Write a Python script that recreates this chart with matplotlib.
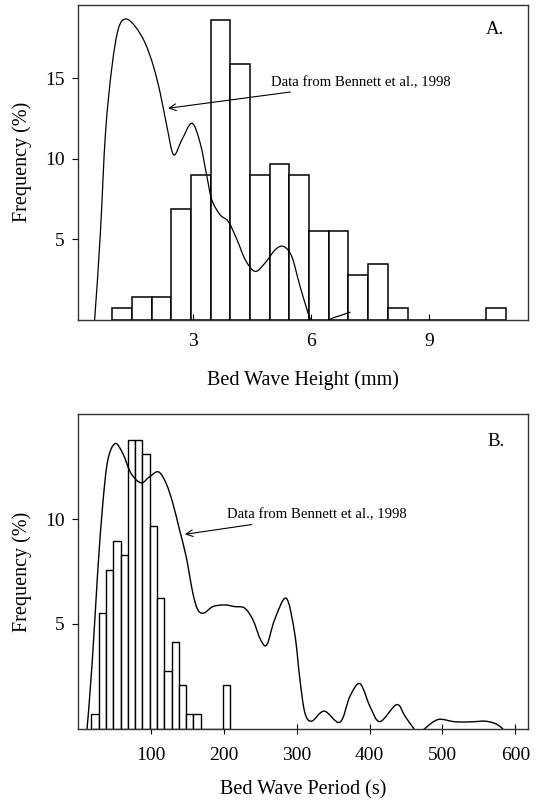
import numpy as np
import matplotlib
matplotlib.use("Agg")
import matplotlib.pyplot as plt
from matplotlib.path import Path
from matplotlib.patches import PathPatch

plt.rcParams['font.family'] = ['Liberation Serif', 'DejaVu Serif']

# ---------------- Panel A: bed wave height ----------------
height_bin_left = [0.95, 1.45, 1.95, 2.45, 2.95, 3.45, 3.95, 4.45, 4.95, 5.45,
                   5.95, 6.45, 6.95, 7.45, 7.95, 8.45, 8.95, 9.45, 9.95, 10.45]
height_bin_width = 0.5
height_freq = [0.69, 1.38, 1.38, 6.90, 8.97, 18.62, 15.86, 8.97, 9.66, 8.97,
               5.52, 5.52, 2.76, 3.45, 0.69, 0.0, 0.0, 0.0, 0.0, 0.69]

# Bennett et al. (1998) curve, height
bennett_h_x = [0.40, 0.505, 0.65, 0.78, 0.945, 1.11, 1.30, 1.54, 1.79, 2.00, 2.17,
               2.34, 2.51, 2.72, 2.975, 3.185, 3.355, 3.48, 3.69, 3.90, 4.12,
               4.33, 4.58, 4.83, 5.09, 5.30, 5.51, 5.72, 5.975, 6.15, 6.30,
               6.48, 6.75, 7.00]
bennett_h_y = [-3.0, 0.0, 5.37, 11.58, 15.72, 18.10, 18.68, 18.20, 17.17, 15.72, 14.07,
               12.00, 10.24, 11.17, 12.20, 10.96, 8.89, 7.44, 6.51, 6.09, 4.96,
               3.71, 2.99, 3.51, 4.34, 4.54, 3.92, 2.06, 0.05, -0.60, -0.55,
               0.0, 0.25, 0.46]

# ---------------- Panel B: bed wave period ----------------
period_bin_left = [18, 28, 38, 48, 58, 68, 78, 88, 98, 108, 118, 128, 138, 148,
                   158, 168, 178, 188, 198]
period_bin_width = 10
period_freq = [0.69, 5.52, 7.59, 8.97, 8.28, 13.79, 13.79, 13.10, 9.66, 6.21,
               2.76, 4.14, 2.07, 0.69, 0.69, 0.0, 0.0, 0.0, 2.07]

bennett_p_x = [5, 12.1, 19.9, 26.8, 33.7, 40.5, 50.5, 61.1, 72.5, 86.3, 97.8, 110.2,
               120.6, 129.8, 139.0, 148.1, 157.3, 164.1, 172.4, 184.8, 200.8,
               214.5, 228.3, 239.7, 250.3, 258.9, 269.5, 285.4, 297.0, 304.3,
               311.1, 320.3, 337.6, 359.2, 373.0, 386.7, 400.4, 414.1, 437.0,
               448.5, 459.9, 468.0, 476.0, 494.2, 517.2, 540.1, 558.4, 572.1,
               581.3, 590.0]
bennett_p_y = [-2.0, 0.03, 3.60, 7.57, 10.75, 12.81, 13.60, 13.13, 12.17, 11.73, 12.02,
               12.25, 11.70, 10.75, 9.48, 8.20, 6.46, 5.67, 5.51, 5.82, 5.90,
               5.82, 5.75, 5.19, 4.24, 4.00, 5.19, 6.22, 4.56, 2.33, 0.75, 0.35,
               0.83, 0.30, 1.54, 2.14, 1.06, 0.33, 1.14, 0.59, 0.03, -0.30, 0.0,
               0.43, 0.32, 0.32, 0.35, 0.24, 0.03, -0.30]

annot_text = "Data from Bennett et al., 1998"


def smooth_path(xs, ys):
    """Smooth Bezier path passing through every read point (Catmull-Rom)."""
    P = np.column_stack([xs, ys]).astype(float)
    n = len(P)
    verts = [P[0]]
    codes = [Path.MOVETO]
    for i in range(n - 1):
        p0 = P[i - 1] if i > 0 else P[i]
        p1 = P[i]
        p2 = P[i + 1]
        p3 = P[i + 2] if i + 2 < n else P[i + 1]
        c1 = p1 + (p2 - p0) / 6.0
        c2 = p2 - (p3 - p1) / 6.0
        verts += [c1, c2, p2]
        codes += [Path.CURVE4] * 3
    return Path(verts, codes)


fig = plt.figure(figsize=(5.36, 8.0), dpi=100)

frame_color = '#333333'
tick_fs = 14
label_fs = 14.5
annot_fs = 10.6

# ---- Panel A ----
axA = fig.add_axes([78.3 / 536, 1 - 319.5 / 800, (527.7 - 78.3) / 536, (319.5 - 5) / 800])
axA.bar(height_bin_left, height_freq, width=height_bin_width, align='edge',
        facecolor='white', edgecolor='black', linewidth=1.1, zorder=1)
axA.add_patch(PathPatch(smooth_path(bennett_h_x, bennett_h_y), facecolor='none',
                        edgecolor='black', linewidth=0.9, zorder=2))
axA.set_xlim(0.09, 11.5)
axA.set_ylim(0.0, 19.55)
axA.set_xticks([3, 6, 9])
axA.set_yticks([5, 10, 15])
axA.tick_params(axis='x', direction='in', length=4, width=0.8, labelsize=tick_fs, pad=10)
axA.tick_params(axis='y', direction='out', length=4, width=0.8, labelsize=tick_fs, pad=6)
axA.set_xlabel("Bed Wave Height (mm)", fontsize=label_fs)
axA.set_ylabel("Frequency (%)", fontsize=label_fs)
axA.xaxis.set_label_coords(0.5, -0.163)
axA.yaxis.set_label_coords(-0.103, 0.5)
axA.annotate(annot_text, xy=(2.37, 13.13), xytext=(4.99, 14.73),
             fontsize=annot_fs, va='center', ha='left',
             arrowprops=dict(arrowstyle='->', color='black', lw=0.8,
                             shrinkA=1, shrinkB=0, mutation_scale=12))
axA.text(10.9, 18.0, "A.", fontsize=13.5, ha='right', va='center')
for s in axA.spines.values():
    s.set_color(frame_color)
    s.set_linewidth(1.0)

# ---- Panel B ----
axB = fig.add_axes([78.3 / 536, 1 - 728.5 / 800, (527.7 - 78.3) / 536, (728.5 - 414.3) / 800])
axB.set_axisbelow(True)
axB.bar(period_bin_left, period_freq, width=period_bin_width, align='edge',
        facecolor='white', edgecolor='black', linewidth=1.0, zorder=1)
axB.add_patch(PathPatch(smooth_path(bennett_p_x, bennett_p_y), facecolor='none',
                        edgecolor='black', linewidth=1.0, zorder=2))
axB.set_xlim(0, 617)
axB.set_ylim(0, 15)
axB.set_xticks([100, 200, 300, 400, 500, 600])
axB.set_yticks([5, 10])
axB.tick_params(axis='x', direction='inout', length=7, width=0.8, labelsize=tick_fs, pad=10)
axB.tick_params(axis='y', direction='out', length=4, width=0.8, labelsize=tick_fs, pad=6)
axB.set_xlabel("Bed Wave Period (s)", fontsize=label_fs)
axB.set_ylabel("Frequency (%)", fontsize=label_fs)
axB.xaxis.set_label_coords(0.5, -0.166)
axB.yaxis.set_label_coords(-0.103, 0.5)
axB.annotate(annot_text, xy=(146.3, 9.27), xytext=(203.6, 10.19),
             fontsize=annot_fs, va='center', ha='left',
             arrowprops=dict(arrowstyle='->', color='black', lw=0.8,
                             shrinkA=1, shrinkB=0, mutation_scale=12))
axB.text(586, 13.68, "B.", fontsize=13.5, ha='right', va='center')
for s in axB.spines.values():
    s.set_color(frame_color)
    s.set_linewidth(1.0)

fig.savefig("out.png", dpi=100)
